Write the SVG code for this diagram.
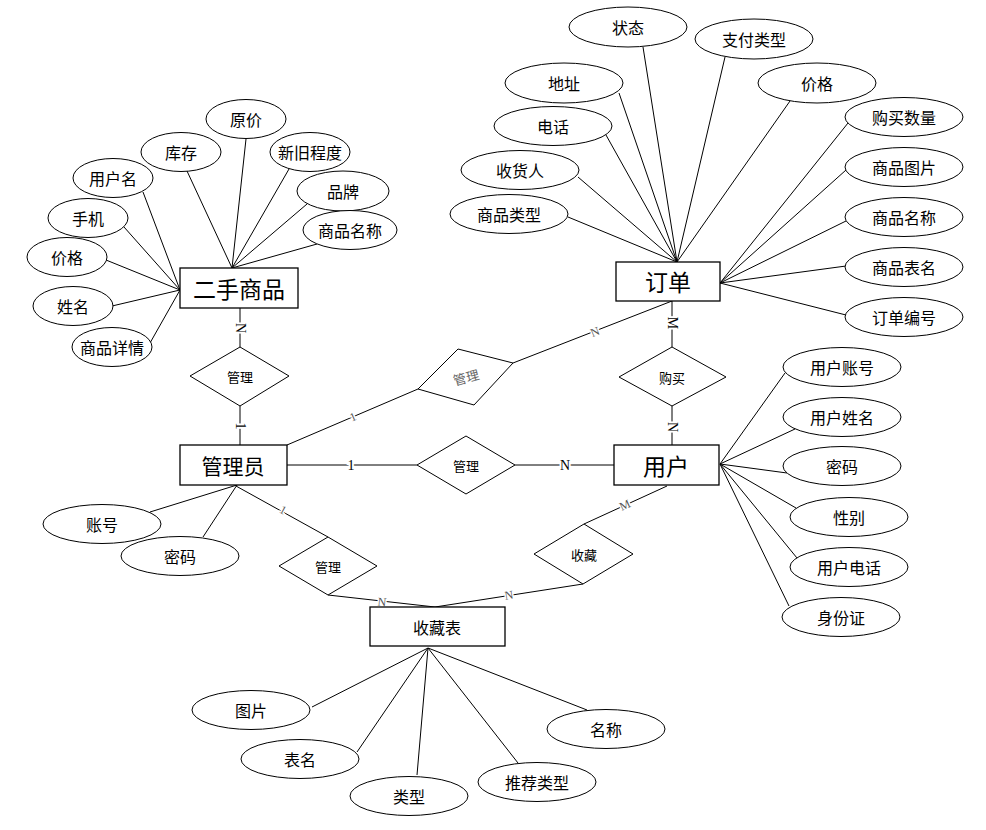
<svg xmlns="http://www.w3.org/2000/svg" width="986" height="830" viewBox="0 0 986 830">
<style>
.bg{fill:#fff}
.conn line,.conn polyline{stroke:#000;stroke-width:1;fill:none}
ellipse{fill:#fff;stroke:#000;stroke-width:1}
rect.ent{fill:#fff;stroke:#000;stroke-width:1.3}
polygon.rel{fill:#fff;stroke:#000;stroke-width:1}
text{font-family:"Noto Sans CJK SC","Noto Sans",sans-serif;text-anchor:middle;dominant-baseline:central;fill:#000}
.a{font-size:16px}
.e{font-size:23px}
.r{font-size:13px}
.c{font-family:"Liberation Serif",serif;font-size:14px;stroke:#fff;stroke-width:4px;paint-order:stroke}
.cg{font-family:"Liberation Serif",serif;font-size:12px;fill:#555;stroke:#fff;stroke-width:3px;paint-order:stroke}
</style>
<rect class="bg" x="0" y="0" width="986" height="830"/>

<g id="connectors" class="conn">
  <!-- 二手商品 attributes -->
  <line x1="187" y1="171" x2="232" y2="268"/>
  <line x1="246" y1="139" x2="232" y2="268"/>
  <line x1="289" y1="169" x2="232" y2="268"/>
  <line x1="307" y1="204" x2="232" y2="268"/>
  <line x1="317" y1="244" x2="232" y2="268"/>
  <line x1="143" y1="192" x2="180" y2="290"/>
  <line x1="124" y1="227" x2="180" y2="290"/>
  <line x1="106" y1="260" x2="180" y2="290"/>
  <line x1="112" y1="306" x2="180" y2="290"/>
  <line x1="150" y1="343" x2="180" y2="290"/>
  <!-- 订单 attributes -->
  <line x1="643" y1="47" x2="677" y2="262"/>
  <line x1="725" y1="57" x2="677" y2="262"/>
  <line x1="619" y1="93" x2="677" y2="262"/>
  <line x1="790" y1="101" x2="677" y2="262"/>
  <line x1="606" y1="135" x2="677" y2="262"/>
  <line x1="578" y1="177" x2="677" y2="262"/>
  <line x1="568" y1="217" x2="677" y2="262"/>
  <line x1="848" y1="123" x2="720" y2="283"/>
  <line x1="846" y1="170" x2="720" y2="283"/>
  <line x1="846" y1="221" x2="720" y2="283"/>
  <line x1="846" y1="266" x2="720" y2="283"/>
  <line x1="846" y1="315" x2="720" y2="283"/>
  <!-- 用户 attributes -->
  <line x1="785" y1="373" x2="720" y2="464"/>
  <line x1="795" y1="429" x2="720" y2="464"/>
  <line x1="787" y1="473" x2="720" y2="464"/>
  <line x1="796" y1="508" x2="720" y2="464"/>
  <line x1="797" y1="558" x2="720" y2="464"/>
  <line x1="789" y1="606" x2="720" y2="464"/>
  <!-- 管理员 attributes -->
  <line x1="150" y1="512" x2="237" y2="485"/>
  <line x1="203" y1="537" x2="237" y2="485"/>
  <!-- 收藏表 attributes -->
  <line x1="312" y1="707" x2="428" y2="648"/>
  <line x1="357" y1="752" x2="428" y2="648"/>
  <line x1="417" y1="775" x2="428" y2="648"/>
  <line x1="518" y1="763" x2="428" y2="648"/>
  <line x1="587" y1="710" x2="428" y2="648"/>
  <!-- relationships -->
  <line x1="240" y1="308" x2="240" y2="347"/>
  <line x1="240" y1="406" x2="240" y2="445"/>
  <line x1="287" y1="465" x2="417" y2="465"/>
  <line x1="515" y1="465" x2="614" y2="465"/>
  <line x1="287" y1="445" x2="418" y2="389"/>
  <line x1="513" y1="363" x2="672" y2="301"/>
  <line x1="672" y1="301" x2="672" y2="347"/>
  <line x1="672" y1="406" x2="672" y2="445"/>
  <line x1="236" y1="486" x2="328" y2="537"/>
  <line x1="328" y1="595" x2="435" y2="607"/>
  <line x1="667" y1="486" x2="584" y2="524"/>
  <line x1="583" y1="584" x2="435" y2="607"/>
  <!-- cardinalities -->
  <text class="c" transform="translate(240,328) rotate(90)">N</text>
  <text class="c" transform="translate(240,426) rotate(90)">1</text>
  <text class="c" transform="translate(672,323) rotate(90)">M</text>
  <text class="c" transform="translate(672,427) rotate(90)">N</text>
  <text class="c" x="351" y="465">1</text>
  <text class="c" x="565" y="465">N</text>
  <text class="cg" transform="translate(353,417) rotate(-23)">1</text>
  <text class="cg" transform="translate(595,332) rotate(-22)">N</text>
  <text class="cg" transform="translate(283,510) rotate(29)">1</text>
  <text class="cg" transform="translate(382,602) rotate(6)">N</text>
  <text class="cg" transform="translate(509,595) rotate(-9)">N</text>
  <text class="cg" transform="translate(625,505) rotate(-25)">M</text>
</g>

<!-- entities -->
<g id="ershou"><rect class="ent" x="180" y="268" width="118" height="40"/><text class="e" x="239" y="288">二手商品</text></g>
<g id="dingdan"><rect class="ent" x="616" y="262" width="104" height="39"/><text class="e" x="668" y="281">订单</text></g>
<g id="guanliyuan"><rect class="ent" x="180" y="445" width="107" height="40"/><text class="e" x="233" y="465" style="font-size:21px">管理员</text></g>
<g id="yonghu"><rect class="ent" x="614" y="445" width="105" height="40"/><text class="e" x="666" y="465">用户</text></g>
<g id="shoucangbiao"><rect class="ent" x="370" y="607" width="135" height="39"/><text class="a" x="437" y="627">收藏表</text></g>

<!-- relationships -->
<g id="rel-guanli1"><polygon class="rel" points="240,347 289,376 240,406 190,376"/><text class="r" x="240" y="376">管理</text></g>
<g id="rel-guanli2"><polygon class="rel" points="418,389 458,349 513,363 474,405"/><text class="r" x="466" y="377" fill="#555" style="fill:#666" transform="rotate(-15 466 377)">管理</text></g>
<g id="rel-guanli3"><polygon class="rel" points="417,465 466,436 515,465 466,494"/><text class="r" x="466" y="465">管理</text></g>
<g id="rel-goumai"><polygon class="rel" points="619,377 672,347 726,377 672,406"/><text class="r" x="672" y="377">购买</text></g>
<g id="rel-guanli4"><polygon class="rel" points="279,566 328,537 377,566 328,595"/><text class="r" x="328" y="566">管理</text></g>
<g id="rel-shoucang"><polygon class="rel" points="534,554 584,524 633,554 583,584"/><text class="r" x="584" y="554">收藏</text></g>

<!-- 二手商品 attributes -->
<g id="a-yuanjia"><ellipse cx="246" cy="119" rx="40" ry="19.5"/><text class="a" x="246" y="119">原价</text></g>
<g id="a-kucun"><ellipse cx="181" cy="152" rx="40" ry="19.5"/><text class="a" x="181" y="152">库存</text></g>
<g id="a-xinjiu"><ellipse cx="310" cy="152" rx="40" ry="19.5"/><text class="a" x="310" y="152">新旧程度</text></g>
<g id="a-yonghuming"><ellipse cx="113" cy="178" rx="40" ry="19.5"/><text class="a" x="113" y="178">用户名</text></g>
<g id="a-pinpai"><ellipse cx="343" cy="191" rx="46" ry="20"/><text class="a" x="343" y="191">品牌</text></g>
<g id="a-shouji"><ellipse cx="88" cy="218" rx="40" ry="19.5"/><text class="a" x="88" y="218">手机</text></g>
<g id="a-spmc1"><ellipse cx="350" cy="230" rx="47" ry="19.5"/><text class="a" x="350" y="230">商品名称</text></g>
<g id="a-jiage1"><ellipse cx="67" cy="257" rx="40" ry="19.5"/><text class="a" x="67" y="257">价格</text></g>
<g id="a-xingming"><ellipse cx="73" cy="306" rx="40" ry="19.5"/><text class="a" x="73" y="306">姓名</text></g>
<g id="a-spxq"><ellipse cx="112" cy="347" rx="40" ry="19.5"/><text class="a" x="112" y="347">商品详情</text></g>

<!-- 订单 attributes -->
<g id="a-zhuangtai"><ellipse cx="628" cy="27" rx="59" ry="20"/><text class="a" x="628" y="27">状态</text></g>
<g id="a-zhifu"><ellipse cx="754" cy="39" rx="59" ry="20"/><text class="a" x="754" y="39">支付类型</text></g>
<g id="a-dizhi"><ellipse cx="564" cy="83" rx="59" ry="20"/><text class="a" x="564" y="83">地址</text></g>
<g id="a-jiage2"><ellipse cx="817" cy="83" rx="59" ry="20"/><text class="a" x="817" y="83">价格</text></g>
<g id="a-dianhua"><ellipse cx="553" cy="126" rx="59" ry="19.5"/><text class="a" x="553" y="126">电话</text></g>
<g id="a-gmsl"><ellipse cx="904" cy="117" rx="59" ry="19.5"/><text class="a" x="904" y="117">购买数量</text></g>
<g id="a-shouhuoren"><ellipse cx="520" cy="170" rx="59" ry="19.5"/><text class="a" x="520" y="170">收货人</text></g>
<g id="a-sptp"><ellipse cx="904" cy="167" rx="59" ry="19.5"/><text class="a" x="904" y="167">商品图片</text></g>
<g id="a-splx"><ellipse cx="509" cy="214" rx="59" ry="19.5"/><text class="a" x="509" y="214">商品类型</text></g>
<g id="a-spmc2"><ellipse cx="904" cy="217" rx="59" ry="19.5"/><text class="a" x="904" y="217">商品名称</text></g>
<g id="a-spbm"><ellipse cx="904" cy="267" rx="59" ry="19.5"/><text class="a" x="904" y="267">商品表名</text></g>
<g id="a-ddbh"><ellipse cx="904" cy="317" rx="59" ry="19.5"/><text class="a" x="904" y="317">订单编号</text></g>

<!-- 用户 attributes -->
<g id="a-yhzh"><ellipse cx="842" cy="367" rx="59" ry="19.5"/><text class="a" x="842" y="367">用户账号</text></g>
<g id="a-yhxm"><ellipse cx="842" cy="417" rx="59" ry="19.5"/><text class="a" x="842" y="417">用户姓名</text></g>
<g id="a-mima2"><ellipse cx="842" cy="466" rx="59" ry="19.5"/><text class="a" x="842" y="466">密码</text></g>
<g id="a-xingbie"><ellipse cx="849" cy="517" rx="59" ry="19.5"/><text class="a" x="849" y="517">性别</text></g>
<g id="a-yhdh"><ellipse cx="849" cy="567" rx="59" ry="19.5"/><text class="a" x="849" y="567">用户电话</text></g>
<g id="a-sfz"><ellipse cx="841" cy="617" rx="59" ry="19.5"/><text class="a" x="841" y="617">身份证</text></g>

<!-- 管理员 attributes -->
<g id="a-zhanghao"><ellipse cx="102" cy="524" rx="59" ry="19.5"/><text class="a" x="102" y="524">账号</text></g>
<g id="a-mima1"><ellipse cx="180" cy="556" rx="59" ry="19.5"/><text class="a" x="180" y="556">密码</text></g>

<!-- 收藏表 attributes -->
<g id="a-tupian"><ellipse cx="251" cy="710" rx="59" ry="19.5"/><text class="a" x="251" y="710">图片</text></g>
<g id="a-biaoming"><ellipse cx="300" cy="759" rx="59" ry="19.5"/><text class="a" x="300" y="759">表名</text></g>
<g id="a-leixing"><ellipse cx="409" cy="796" rx="59" ry="19.5"/><text class="a" x="409" y="796">类型</text></g>
<g id="a-tjlx"><ellipse cx="537" cy="782" rx="59" ry="19.5"/><text class="a" x="537" y="782">推荐类型</text></g>
<g id="a-mingcheng"><ellipse cx="606" cy="729" rx="59" ry="19.5"/><text class="a" x="606" y="729">名称</text></g>
</svg>
